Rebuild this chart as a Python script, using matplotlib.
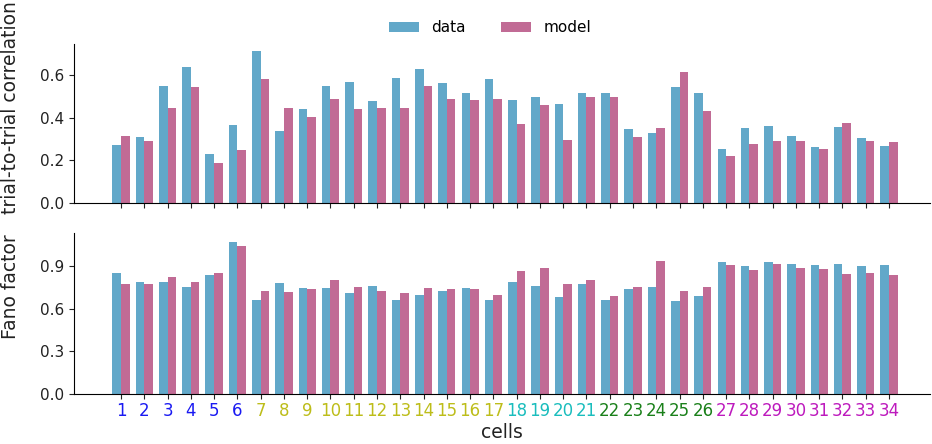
import matplotlib
matplotlib.use("Agg")
import matplotlib.pyplot as plt
import numpy as np

cells = list(range(1, 35))

corr_data = [0.272, 0.308, 0.549, 0.638, 0.229, 0.367, 0.712, 0.337, 0.440, 0.549,
             0.567, 0.476, 0.585, 0.628, 0.561, 0.514, 0.579, 0.482, 0.495, 0.465,
             0.514, 0.514, 0.345, 0.326, 0.543, 0.514, 0.254, 0.351, 0.362, 0.314,
             0.261, 0.356, 0.303, 0.267]
corr_model = [0.314, 0.289, 0.447, 0.543, 0.187, 0.247, 0.579, 0.447, 0.404, 0.489,
              0.440, 0.447, 0.447, 0.549, 0.489, 0.482, 0.489, 0.368, 0.459, 0.297,
              0.495, 0.495, 0.309, 0.351, 0.615, 0.429, 0.219, 0.278, 0.290, 0.290,
              0.254, 0.375, 0.290, 0.284]

fano_data = [0.854, 0.791, 0.791, 0.754, 0.836, 1.073, 0.664, 0.782, 0.744, 0.744,
             0.709, 0.763, 0.664, 0.700, 0.728, 0.744, 0.664, 0.791, 0.763, 0.681,
             0.772, 0.664, 0.737, 0.754, 0.655, 0.690, 0.927, 0.899, 0.927, 0.918,
             0.908, 0.918, 0.899, 0.908]
fano_model = [0.772, 0.772, 0.826, 0.791, 0.854, 1.045, 0.728, 0.718, 0.737, 0.800,
              0.754, 0.728, 0.709, 0.744, 0.737, 0.737, 0.700, 0.864, 0.890, 0.772,
              0.800, 0.690, 0.754, 0.937, 0.728, 0.754, 0.908, 0.873, 0.918, 0.890,
              0.883, 0.845, 0.854, 0.836]

# cell groups and their label colours
group_sizes = [6, 11, 4, 5, 8]
group_colors = [(0.1, 0.1, 0.95), (0.74, 0.74, 0.1), (0.1, 0.74, 0.74),
                (0.1, 0.5, 0.1), (0.74, 0.1, 0.74)]

c_data = "#62a8c9"
c_model = "#c16b95"

fig = plt.figure(figsize=(9.32, 4.44), dpi=100)
ax1 = fig.add_axes([74 / 932, 1 - 203 / 444, 856 / 932, 159 / 444])
ax2 = fig.add_axes([74 / 932, 1 - 394 / 444, 856 / 932, 161 / 444])

x = np.array(cells)
w = 0.37

for ax, d, m in [(ax1, corr_data, corr_model), (ax2, fano_data, fano_model)]:
    ax.bar(x - w / 2, d, width=w, color=c_data, label="data")
    ax.bar(x + w / 2, m, width=w, color=c_model, label="model")
    ax.set_xlim(-1.02, 35.76)
    ax.set_xticks(x)
    for s in ["top", "right"]:
        ax.spines[s].set_visible(False)
    ax.tick_params(axis="y", labelsize=11, colors="#222222")
    ax.tick_params(axis="x", colors="#222222", pad=2.5)

ax1.set_ylim(0, 0.745)
ax1.set_yticks([0.0, 0.2, 0.4, 0.6])
ax1.set_xticklabels([])

ax2.set_ylim(0, 1.134)
ax2.set_yticks([0.0, 0.3, 0.6, 0.9])
ax2.set_xticklabels([str(c) for c in cells], fontsize=12)
label_colors = []
for size, col in zip(group_sizes, group_colors):
    label_colors += [col] * size
for lbl, col in zip(ax2.get_xticklabels(), label_colors):
    lbl.set_color(col)

ax1.set_ylabel("trial-to-trial correlation", fontsize=13.5, color="#222222")
ax1.yaxis.set_label_coords(-0.063, 0.60)
ax2.set_ylabel("Fano factor", fontsize=13.5, color="#222222")
ax2.yaxis.set_label_coords(-0.063, 0.665)
ax2.set_xlabel("cells", fontsize=13.5, color="#222222", labelpad=2)

handles, labels = ax1.get_legend_handles_labels()
fig.legend(handles, labels, loc="center", bbox_to_anchor=(490 / 932, 1 - 28 / 444),
           ncol=2, frameon=False, fontsize=11, columnspacing=2.3)

fig.savefig("out.png", dpi=100)
